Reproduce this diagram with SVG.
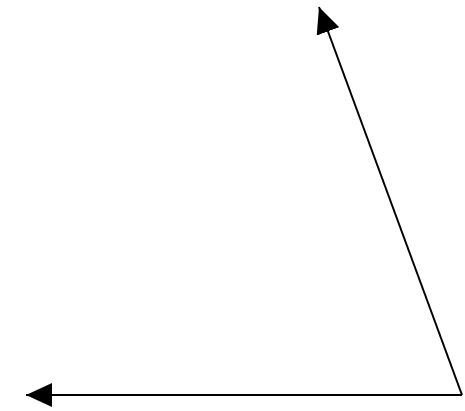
<svg xmlns="http://www.w3.org/2000/svg" width="465" height="411" viewBox="0 0 465 411">
<defs>
<marker id="ah" viewBox="0 0 26 24" refX="26" refY="12" markerWidth="26" markerHeight="24" markerUnits="userSpaceOnUse" orient="auto">
<path d="M0,0 L26,12 L0,24 Z" fill="#000"/>
</marker>
</defs>
<rect width="465" height="411" fill="#fff"/>
<g id="connectors" stroke="#000" stroke-width="2" fill="none">
<line x1="462" y1="395" x2="26" y2="395" marker-end="url(#ah)"/>
<line x1="462" y1="395" x2="319" y2="7" marker-end="url(#ah)"/>
</g>
</svg>
